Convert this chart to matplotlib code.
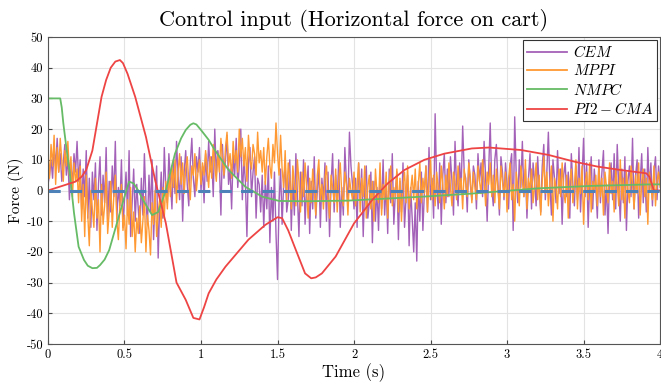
import numpy as np
import matplotlib
matplotlib.use("Agg")
import matplotlib.pyplot as plt

plt.rcParams['font.family'] = 'serif'
plt.rcParams['font.serif'] = ['cmr10', 'DejaVu Serif']
plt.rcParams['mathtext.fontset'] = 'cm'
plt.rcParams['axes.formatter.use_mathtext'] = True
plt.rcParams['axes.unicode_minus'] = False

dt = 0.01
cem = [
    2, 5, 10, 4, 14, 8, 17, 6, 12, 3, 9, 15, 5, 11, -3, 8, 2, 12, 6, 16,
    3, 10, -6, 7, -2, 13, -9, 4, -12, 6, -3, 9, -13, 2, 11, -8, 5, -4, 14, -10,
    3, -7, 8, -2, 16, -9, 1, -5, 10, -12, -3, 6, -8, 13, -15, -4, 7, -10, 2, -6,
    -14, 4, -8, 12, -3, -11, 5, -7, 10, -16, -2, 8, -22, -5, 6, -9, 14, 1, -4, 12,
    3, -6, 10, -1, 16, 5, -3, 11, -10, 6, 13, 2, -5, 9, 17, 4, -2, 11, 6, 14,
    0, 8, -4, 12, 3, 16, 6, 11, -2, 20, 5, 13, 9, -8, 15, 4, 10, 18, 2, 7,
    -6, 12, 5, 17, 1, 8, 20, -3, 10, 3, -15, 9, 14, -2, 6, 11, -9, 4, 2, -7,
    5, -12, 3, -6, 8, -17, 1, -10, 6, -14, -29, -4, 7, -11, 2, 9, -7, -3, 10, -13,
    4, -8, 12, -2, -15, 6, -5, 10, -11, 1, 8, -14, 3, -6, 11, -9, 0, 7, -12, 4,
    -3, 9, -10, 6, -15, 2, 12, -7, 5, -4, 10, -12, 1, -8, 14, 3, -5, 19, 8, 2,
    -6, 4, -12, 9, -3, 7, -15, 2, 8, -9, -4, 6, -17, 3, -10, 1, -13, 5, -6, 10,
    -8, 2, -14, 7, -4, 12, -11, -1, 6, -16, 3, -7, 9, -12, -2, 5, -18, 1, -9, -20,
    -4, -23, 3, -10, 6, -13, 0, 8, -7, 14, -3, 4, -9, 25, 2, -6, 9, -11, 5, 12,
    -4, 7, -2, 11, 3, -8, 16, 1, -5, 9, 0, 21, 6, 4, -7, 10, 2, -3, 8, 5,
    -6, 12, 3, 9, -2, 16, 4, -10, 7, 22, 1, -5, 10, 15, 3, -8, 11, 6, -3, 9,
    2, -6, 8, 12, -13, 24, 5, -4, 10, 1, 16, -2, 7, -9, 4, 12, -6, 9, 3, -5,
    11, 1, -7, 8, 15, -3, 6, 19, 2, -8, 10, 4, -4, 13, -1, 7, -11, 5, 9, -2,
    6, -9, 12, 2, -5, 8, -3, 14, -7, 4, 17, -2, 9, -12, 3, 11, -6, 7, 1, -9,
    10, -4, 6, 13, -8, 2, -14, 5, 9, -3, 12, -6, 15, 1, -10, 7, -4, 11, -13, 3,
    8, -2, 17, -6, 5, 10, -9, 3, 12, -4, 7, -7, 14, 0, 9, -5, 6, 11, -3, 8,
    2,
]
mppi = [
    12, 4, 15, 8, 18, 2, 14, 6, 17, 10, 3, 13, 8, 16, 5, 11, -2, 9, 3, 7,
    -4, 8, -10, 2, -15, 5, -8, -18, 0, -6, -12, 4, -9, -3, -20, 2, -11, -5, 6, -14,
    -7, 3, -12, -2, 5, -10, -16, -4, 2, -13, -8, -19, -3, -11, 1, -15, -7, -20, -9, -14,
    -5, -17, -10, -2, -20, -8, -13, -21, -4, -11, 0, -15, -7, -3, -12, 1, -9, 3, -6, 5,
    -2, 8, 1, 10, -4, 6, 12, 2, 9, -1, 7, 11, 3, -3, 8, 5, 12, 0, 6, 10,
    2, 9, 5, 13, 7, 1, 11, 4, 15, 8, 3, 12, 6, 17, 10, 5, 14, 19, 8, 12,
    4, 16, 9, 13, 6, 20, 11, 17, 8, 14, 3, 18, 10, 7, 15, 12, 5, 19, 9, 13,
    6, 14, 2, 11, 17, 8, 4, 15, 9, 22, 12, 5, 18, 7, 1, 13, -3, 9, 4, -6,
    8, 2, -5, 10, 3, -7, 6, -2, 9, 1, -9, 4, -4, 7, 0, -8, 5, 10, -3, 2,
    -6, 4, 8, -2, -9, 5, 1, -4, 7, -7, 3, 9, -1, -5, 6, 2, -8, 4, 0, -3,
    6, -5, 2, 9, -7, 4, -2, 8, -9, 1, 5, -6, 3, -10, 7, -1, -4, 9, -8, 2,
    -3, 6, -9, 3, 8, -5, 1, -2, 7, -7, 4, -10, 2, 6, -4, 8, -6, 0, 5, -3,
    7, -6, 2, 9, -4, 4, -1, 8, -7, 3, 10, -3, 5, -5, 6, 1, -4, 8, 2, -6,
    5, -2, 9, 1, -5, 6, 3, -3, 8, 0, 4, -6, 7, 2, -2, 9, 4, -4, 6, 1,
    -3, 8, 3, -1, 10, 4, -5, 6, 2, 9, -2, 5, -4, 7, 1, -6, 8, 3, -2, 6,
    -7, 4, 9, -3, 2, -10, 6, 1, -5, 8, 3, -2, 10, -6, 4, 0, 7, -4, 2, 9,
    -3, 5, -8, 3, 11, -1, 6, -5, 2, 8, -10, 4, 1, -6, 7, -2, 9, 0, -4, 5,
    -9, 3, 7, -4, 1, 10, -6, 4, -1, 8, -11, 2, 6, -3, 9, -7, 3, 0, 5, -5,
    8, -2, 4, -8, 6, 1, -4, 9, -1, 3, -7, 7, 2, -5, 10, -3, 4, -9, 6, 0,
    -4, 8, 2, -6, 5, -1, 9, -8, 3, 7, -2, 4, -11, 6, 1, -3, 8, -5, 3, 6,
    1,
]

nmpc_t = [0.0, 0.08, 0.09, 0.10, 0.12, 0.14, 0.17, 0.20, 0.235, 0.26, 0.29, 0.32, 0.34,
          0.37, 0.40, 0.45, 0.50, 0.53, 0.56, 0.59, 0.62, 0.68, 0.72, 0.77, 0.80, 0.83,
          0.87, 0.90, 0.93, 0.95, 0.97, 1.0, 1.05, 1.09, 1.18, 1.29, 1.40, 1.51, 1.68,
          1.96, 2.45, 2.77, 3.2, 3.55, 3.94, 4.0]
nmpc_v = [30, 30, 27, 22, 14, 6.7, -7.3, -18.3, -22.6, -24.5, -25.3, -25.2, -24.3,
          -22.5, -19.4, -10.7, -2, 2.9, 2.3, 0, -3, -8, -7, 0, 6, 12,
          17, 19.7, 21.4, 21.9, 21.5, 19.7, 16.5, 13.2, 6.7, 1.2, -2, -3.4, -3.5,
          -3.3, -2, -1.0, 0.7, 1.5, 2, 2]

pi2_t = [0.0, 0.18, 0.22, 0.25, 0.29, 0.35, 0.38, 0.41, 0.44, 0.47, 0.49, 0.52, 0.57,
         0.64, 0.70, 0.77, 0.84, 0.90, 0.95, 0.99, 1.02, 1.05, 1.10, 1.16, 1.31, 1.42,
         1.50, 1.53, 1.57, 1.62, 1.68, 1.72, 1.75, 1.79, 1.88, 2.0, 2.12, 2.22, 2.33,
         2.46, 2.59, 2.77, 2.88, 3.09, 3.27, 3.44, 3.59, 3.74, 3.91, 3.93, 3.96, 4.0]
pi2_v = [0, 2.9, 4.5, 6.7, 13, 30.5, 36, 40, 42, 42.5, 41.5, 38, 30.5,
         17.5, 3.4, -10.6, -30, -35.6, -41.5, -42, -38, -33.5, -29, -24.8, -16, -11.2,
         -8.7, -9, -13, -19.4, -27, -28.6, -28.3, -27, -21.5, -10.7, -3, 2.3, 6.7,
         10, 12, 13.7, 14, 13.2, 11.6, 9.4, 7.8, 6.7, 5.6, 4.5, 0, 0]

labels = ['$CEM$', '$MPPI$', '$NMPC$', '$PI2-CMA$']
colors = ['#A461B8', '#FF9933', '#66BB66', '#EE4444']

t = np.arange(len(cem)) * dt

fig = plt.figure(figsize=(6.61, 3.88), dpi=100)
ax = fig.add_axes([0.0726, 0.1134, 0.926, 0.7912])
ax.plot(t, cem, color=colors[0], lw=1.0, label=labels[0])
ax.plot(t, mppi, color=colors[1], lw=1.0, label=labels[1])
ax.plot(nmpc_t, nmpc_v, color=colors[2], lw=1.3, label=labels[2])
ax.plot(pi2_t, pi2_v, color=colors[3], lw=1.3, label=labels[3])
ax.axhline(0, color='#4C82B8', lw=2.2, ls=(0, (4, 3)))

ax.set_xlim(0, 4)
ax.set_ylim(-50, 50)
ax.set_xticks(np.arange(0, 4.01, 0.5))
ax.set_xticklabels(['0', '0.5', '1', '1.5', '2', '2.5', '3', '3.5', '4'])
ax.set_yticks(np.arange(-50, 51, 10))
ax.set_yticklabels([str(v) for v in range(-50, 51, 10)])
ax.tick_params(direction='in', labelsize=9, length=3, color='#444444')
ax.grid(True, color='#E3E3E3', lw=0.8)
ax.set_axisbelow(True)
for s in ax.spines.values():
    s.set_color('#555555')
    s.set_linewidth(0.8)

ax.set_xlabel('Time (s)', fontsize=12, labelpad=2)
ax.set_ylabel('Force (N)', fontsize=11, labelpad=2)
ax.set_title('Control input (Horizontal force on cart)', fontsize=16, pad=8)

leg = ax.legend(loc='upper right', fontsize=11, fancybox=False, framealpha=1,
                edgecolor='#333333', borderpad=0.25, labelspacing=0.22,
                handlelength=2.6, handletextpad=0.4, borderaxespad=0.2)
leg.get_frame().set_linewidth(0.8)
for ln in leg.get_lines():
    ln.set_linewidth(1.3)

fig.savefig('out.png', dpi=100)
